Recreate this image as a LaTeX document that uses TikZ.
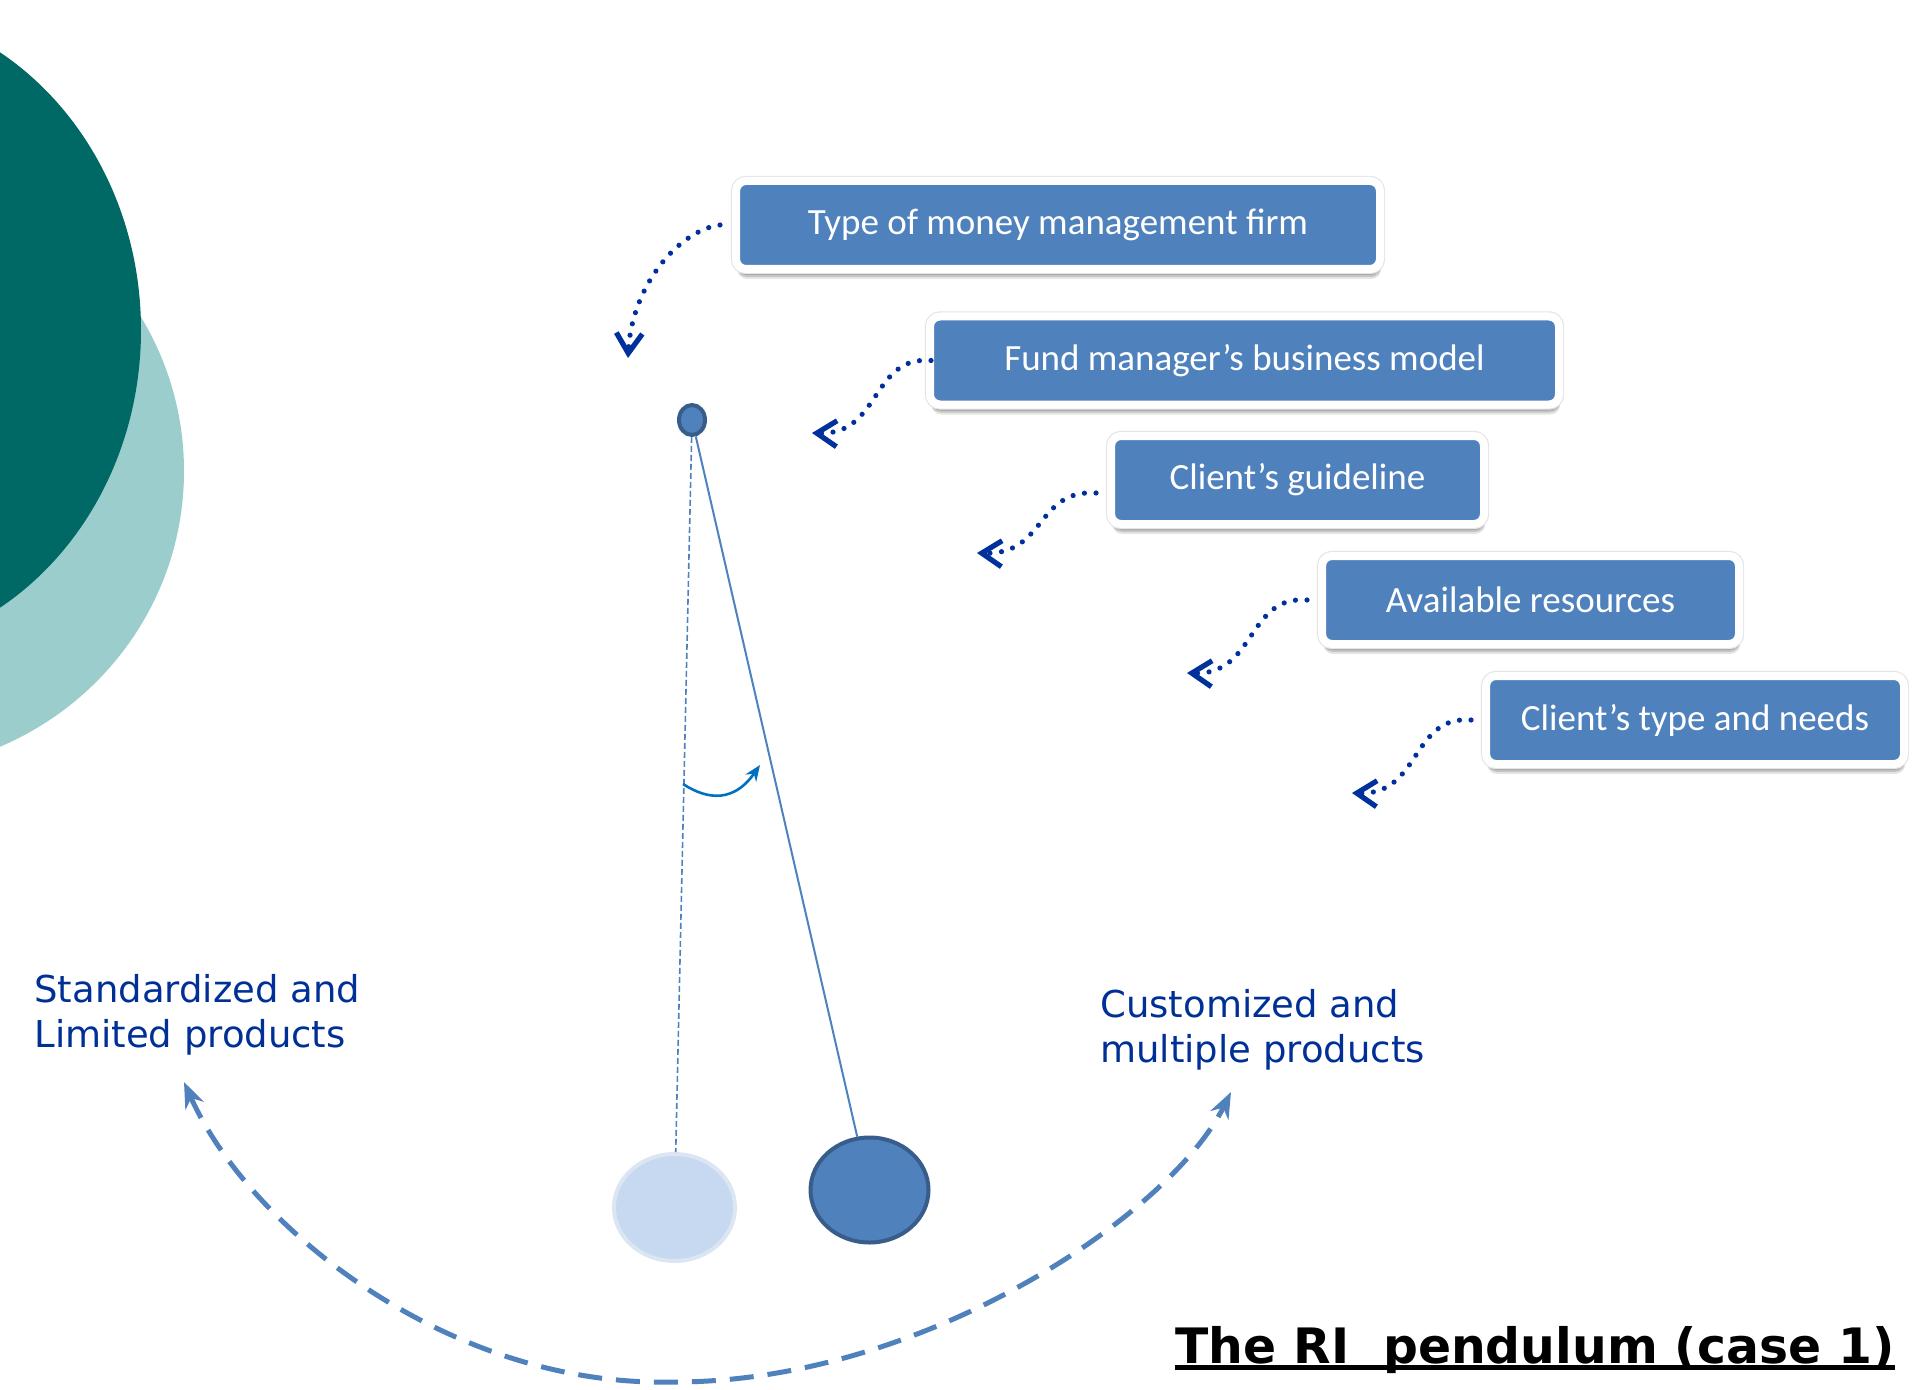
\documentclass[tikz,border=0pt]{standalone}
\usepackage{fontspec}
\setmainfont{DejaVu Sans}
\newfontfamily\boxfont{Carlito}
\usetikzlibrary{shapes.geometric,arrows.meta,shadows}
\definecolor{boxblue}{HTML}{4F81BD}
\definecolor{darkring}{HTML}{385D8A}
\definecolor{lightfill}{HTML}{C6D9F1}
\definecolor{lightring}{HTML}{DCE6F2}
\definecolor{navy}{RGB}{0,48,155}
\definecolor{labelblue}{RGB}{0,48,150}
\definecolor{angleblue}{HTML}{0070C0}
\definecolor{tealdark}{RGB}{0,105,101}
\definecolor{teallight}{RGB}{155,205,205}
\begin{document}
\begin{tikzpicture}[x=0.5pt,y=-0.5pt,
  infobox/.style={rounded corners=5pt, fill=boxblue, draw=white, line width=4pt,
    minimum height=44pt, inner sep=0pt, text=white,
    font=\boxfont\fontsize{18.5}{22}\selectfont,
    drop shadow={shadow xshift=0.6pt, shadow yshift=-5pt, opacity=0.10, fill=black},
    drop shadow={shadow xshift=0.5pt, shadow yshift=-4pt, opacity=0.14, fill=black},
    drop shadow={shadow xshift=0.3pt, shadow yshift=-3pt, opacity=0.18, fill=black},
    preaction={draw=black!10, line width=5.2pt}},
  dotarrow/.style={navy, line width=2.6pt, line cap=round, dash pattern=on 0pt off 5.8pt,
    -{Straight Barb[length=10pt,width=13pt,line width=2.6pt]}},
  sidelabel/.style={anchor=north west, align=left, inner sep=0pt, text=labelblue,
    font=\fontsize{18.5}{22.5}\selectfont},
  bob/.style={ellipse, inner sep=0pt, line width=2pt}
]
\useasboundingbox (0,0) rectangle (1920,1390);
% background teal shapes
\begin{scope}
  \clip (0,0) rectangle (1920,1390);
  \fill[teallight] (-120,471) ellipse [x radius=152pt, y radius=150pt];
  \fill[tealdark] (-150,330) ellipse [x radius=145.5pt, y radius=162pt];
\end{scope}

% factor boxes
\node[infobox, minimum width=322pt]   (b1) at (1058,225)    {Type of money management firm};
\node[infobox, minimum width=314.5pt] (b2) at (1244.5,360.5) {Fund manager’s business model};
\node[infobox, minimum width=186.5pt] (b3) at (1297.5,480)  {Client’s guideline};
\node[infobox, minimum width=208.5pt] (b4) at (1530.5,600)  {Available resources};
\node[infobox, minimum width=209pt]   (b5) at (1695,720)    {Client’s type and needs};

% dotted arrows
\coordinate (t1) at (628,358);
\coordinate (t2) at (812,433);
\coordinate (t3) at (977,553);
\coordinate (t4) at (1187,673);
\coordinate (t5) at (1352,793);
\draw[dotarrow] ([xshift=-6pt]b1.west) .. controls +(-40,5) and +(4,-74) .. (t1);
\draw[dotarrow] ([xshift=2.5pt]b2.west) .. controls +(-60,-5) and +(69,2) .. (t2);
\draw[dotarrow] ([xshift=-5.5pt,yshift=-6.5pt]b3.west) .. controls +(-60,-4) and +(69,2) .. (t3);
\draw[dotarrow] ([xshift=-5.5pt]b4.west) .. controls +(-60,-5) and +(69,2) .. (t4);
\draw[dotarrow] ([xshift=-5.5pt]b5.west) .. controls +(-60,-5) and +(69,2) .. (t5);

% pendulum
\node[bob, fill=boxblue, draw=darkring, minimum width=13pt, minimum height=15pt] (pivot) at (692,420) {};
\node[bob, fill=lightfill, draw=lightring, minimum width=60.5pt, minimum height=53.5pt] (ballL) at (674.5,1207.5) {};
\node[bob, fill=boxblue, draw=darkring, minimum width=59pt, minimum height=52.5pt] (ballD) at (869.5,1190) {};
\draw[boxblue, line width=0.8pt, dash pattern=on 3pt off 1.5pt] (pivot) -- (ballL);
\draw[boxblue, line width=1pt] (pivot) -- (ballD);

% angle arrow
\coordinate (a0) at (683,784);
\coordinate (a1) at (760,765);
\draw[angleblue, line width=1.3pt, -{Stealth[length=8pt,width=6.5pt]}] (a0) .. controls (700,795) and (730,808) .. (a1);

% side labels
\node[sidelabel] (lstd) at (34,974) {Standardized and\\Limited products};
\node[sidelabel] (lcus) at (1100,989) {Customized and\\multiple products};

% swing arc
\coordinate (arcL) at (184,1082);
\coordinate (arcB) at (667,1382);
\coordinate (arcR) at (1231,1092);
\draw[boxblue, line width=2.5pt, dash pattern=on 12pt off 7pt,
  {Stealth[length=13pt,width=10pt]}-{Stealth[length=13pt,width=10pt]}]
  (arcL) .. controls (250,1230) and (450,1385) .. (arcB)
  .. controls (920,1385) and (1170,1215) .. (arcR);

% title
\node[anchor=base west, inner sep=0pt, font=\bfseries\fontsize{24.4}{29}\selectfont] (title) at (1175,1363) {The RI\ \ pendulum (case 1)};
\draw[line width=2.5pt] ([yshift=-2.25pt]title.base west) -- ([yshift=-2.25pt]title.base east);
\end{tikzpicture}
\end{document}
